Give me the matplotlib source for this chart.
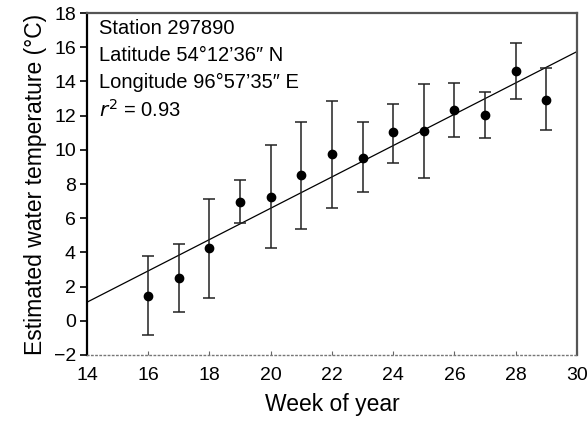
import numpy as np
import matplotlib
matplotlib.use('Agg')
from matplotlib import pyplot as plt

plt.rcParams['font.family'] = ['Liberation Sans', 'DejaVu Sans']

weeks = [16, 17, 18, 19, 20, 21, 22, 23, 24, 25, 26, 27, 28, 29]
temp = [1.45, 2.48, 4.27, 6.93, 7.25, 8.53, 9.73, 9.55, 11.02, 11.1, 12.33, 12.04, 14.63, 12.91]
err_hi = [3.77, 4.49, 7.1, 8.23, 10.26, 11.6, 12.87, 11.6, 12.68, 13.83, 13.93, 13.38, 16.26, 14.77]
err_lo = [-0.83, 0.5, 1.35, 5.7, 4.27, 5.39, 6.6, 7.55, 9.25, 8.33, 10.77, 10.69, 12.95, 11.14]
info = ["Station 297890", "Latitude 54\u00b012\u201936\u2033 N",
        "Longitude 96\u00b057\u201935\u2033 E", "$r^2$ = 0.93"]

weeks = np.array(weeks)
temp = np.array(temp)
yerr = [temp - np.array(err_lo), np.array(err_hi) - temp]

fig = plt.figure(figsize=(5.88, 4.23), dpi=100)
ax = fig.add_axes([0.148, 0.161, 0.833, 0.808])

# regression line over the whole x range
slope, icpt = np.polyfit(weeks, temp, 1)
xs = np.array([14, 30])
ax.plot(xs, icpt + slope * xs, color='black', lw=0.9)

ax.errorbar(weeks, temp, yerr=yerr, fmt='o', color='black', ms=6,
            ecolor='#222222', elinewidth=1.1, capsize=4, capthick=1.1)

ax.set_xlim(14, 30)
ax.set_ylim(-2, 18)
ax.set_xticks(range(14, 31, 2))
ax.set_yticks(range(-2, 19, 2))
ax.set_yticklabels(['\u22122'] + [str(v) for v in range(0, 19, 2)])

ax.spines['left'].set_linewidth(1.6)
ax.spines['left'].set_color('black')
for s in ['top', 'right']:
    ax.spines[s].set_linewidth(1.6)
    ax.spines[s].set_color('#555555')
ax.spines['bottom'].set_linestyle((0, (1, 2)))
ax.spines['bottom'].set_color('#777777')
ax.spines['bottom'].set_linewidth(1.0)

ax.tick_params(axis='y', direction='out', length=5, width=1.2, labelsize=14, pad=3)
ax.tick_params(axis='x', direction='in', length=3, width=0.8, color='#666666',
               labelsize=14, pad=9)

ax.set_xlabel('Week of year', fontsize=16.5, labelpad=6)
ax.set_ylabel('Estimated water temperature (\u00b0C)', fontsize=16.5, labelpad=5)

for i, t in enumerate(info):
    ax.text(0.024, 0.956 - i * 0.080, t, transform=ax.transAxes,
            fontsize=14.5, va='center', ha='left')

fig.savefig('out.png', dpi=100)
